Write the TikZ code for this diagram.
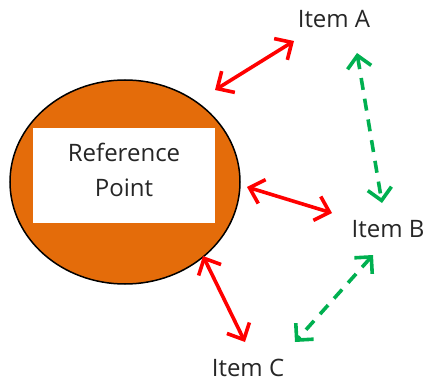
\documentclass[tikz,border=0pt]{standalone}
\usepackage{fontspec}
\setmainfont{Open Sans}
\usetikzlibrary{arrows.meta,shapes.geometric}
\definecolor{orng}{RGB}{228,108,10}
\definecolor{redc}{RGB}{255,0,0}
\definecolor{grnc}{RGB}{0,176,80}
\begin{document}
\begin{tikzpicture}[x=1pt,y=-1pt,
  lbl/.style={font=\fontsize{24}{28}\selectfont, text=black!85, inner sep=0pt},
  redarr/.style={draw=redc, line width=3.6pt, {Straight Barb[length=13pt,width=25pt,line width=3.6pt]}-{Straight Barb[length=13pt,width=25pt,line width=3.6pt]}},
  grnarr/.style={draw=grnc, line width=3.6pt, dash pattern=on 12pt off 9pt, {Straight Barb[length=12pt,width=24pt,line width=3.6pt]}-{Straight Barb[length=12pt,width=24pt,line width=3.6pt]}}]
\useasboundingbox (0,0) rectangle (425,382);
\node[ellipse, draw=black, line width=1.5pt, fill=orng, minimum width=230pt, minimum height=204pt, inner sep=0pt] (ell) at (125,182) {};
\node[rectangle, fill=white, minimum width=182pt, minimum height=95pt, inner sep=0pt] (ref) at (124,175.5) {};
\node[lbl, align=center, font=\fontsize{24}{35}\selectfont] (reftext) at (124,170) {Reference\\Point};
\node[lbl] (A) at (334,19) {Item A};
\node[lbl] (B) at (388,229) {Item B};
\node[lbl] (C) at (248,368) {Item C};
\coordinate (eA) at (215,90);
\coordinate (aE) at (294,41);
\coordinate (eB) at (247,187);
\coordinate (bE) at (332,213);
\coordinate (eC) at (203,256);
\coordinate (cE) at (245,342);
\coordinate (aB) at (357,53);
\coordinate (bA) at (382,203);
\coordinate (bC) at (373,255);
\coordinate (cB) at (295,342);
\draw[redarr] (eA) -- (aE);
\draw[redarr] (eB) -- (bE);
\draw[redarr] (eC) -- (cE);
\draw[grnarr] (aB) -- (bA);
\draw[grnarr] (bC) -- (cB);
\end{tikzpicture}
\end{document}
